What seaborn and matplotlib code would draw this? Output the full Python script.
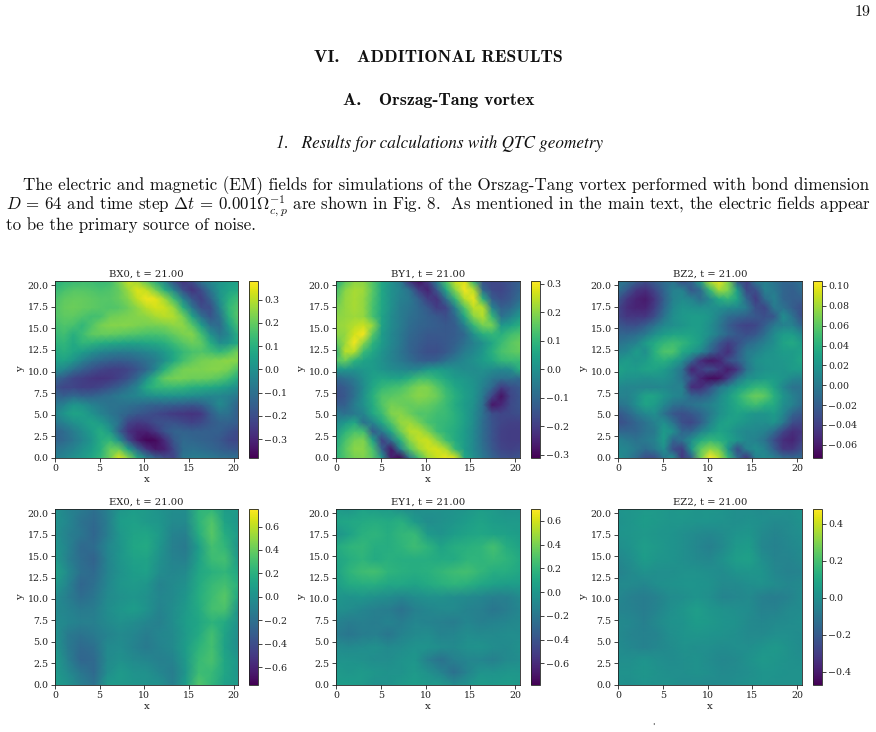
import numpy as np
import matplotlib
matplotlib.use("Agg")
import matplotlib.pyplot as plt
import seaborn as sns

# Field samples on regular grids, listed from the top row (y = 20.5) to the bottom row (y = 0).
# BX0, BY1, EX0, EY1 and EZ2 are in units of 0.01; BZ2 is in units of 0.001.
BX0 = [
    [10, 12, 13, 14, 14, 13, 14, 22, 31, 27, 18, 8, -4, -20, -27, -20, -8, -2, 2, 4, 5],
    [13, 16, 18, 18, 17, 16, 17, 20, 27, 34, 31, 22, 10, -4, -20, -27, -20, -8, 2, 6, 8],
    [16, 19, 20, 20, 19, 18, 18, 20, 24, 31, 36, 35, 27, 14, -4, -18, -24, -14, 0, 10, 14],
    [17, 20, 21, 20, 19, 18, 17, 18, 21, 25, 30, 33, 32, 26, 10, -8, -20, -20, -4, 12, 17],
    [17, 19, 19, 17, 15, 16, 21, 22, 23, 24, 25, 28, 30, 29, 22, 6, -10, -18, -10, 10, 18],
    [15, 17, 16, 12, 17, 22, 24, 24, 24, 23, 22, 22, 23, 25, 25, 18, 4, -10, -12, 4, 15],
    [13, 15, 10, 14, 19, 20, 20, 19, 18, 17, 16, 16, 17, 20, 23, 24, 15, 0, -8, -2, 10],
    [11, 12, 8, 12, 11, 9, 8, 7, 6, 6, 7, 8, 10, 14, 18, 21, 19, 9, -1, 2, 8],
    [8, 10, 7, 4, 0, -3, -5, -6, -6, -5, -3, -1, 3, 8, 13, 16, 17, 15, 12, 16, 22],
    [5, 6, 2, -5, -10, -13, -15, -16, -15, -13, -10, -6, 0, 8, 15, 19, 22, 23, 24, 25, 24],
    [0, -3, -10, -15, -19, -22, -24, -24, -22, -18, -13, -3, 10, 18, 22, 23, 23, 24, 24, 22, 16],
    [-13, -17, -22, -24, -26, -27, -26, -23, -19, -12, 0, 12, 20, 22, 22, 21, 21, 20, 18, 14, 8],
    [-19, -22, -22, -24, -24, -22, -19, -15, -10, -3, 8, 12, 13, 13, 12, 10, 9, 8, 6, 3, -1],
    [-13, -15, -12, -14, -14, -12, -10, -7, -5, -3, -1, 0, 1, 1, 0, -1, -2, -3, -3, -5, -8],
    [-8, -4, 2, 0, -4, -7, -9, -9, -10, -11, -13, -14, -14, -15, -16, -17, -15, -9, -2, -7, -14],
    [-4, 2, 6, 5, 1, -4, -8, -11, -14, -17, -19, -21, -23, -25, -26, -27, -25, -16, -9, -10, -16],
    [-8, -4, 0, 3, 6, 3, -3, -10, -22, -25, -24, -20, -19, -19, -21, -23, -21, -17, -14, -14, -16],
    [-14, -11, -6, -1, 4, 9, 3, -14, -27, -31, -31, -26, -18, -14, -14, -15, -15, -15, -15, -18, -21],
    [-14, -12, -8, -3, 2, 9, 12, 0, -20, -32, -37, -36, -28, -17, -12, -13, -14, -15, -17, -21, -22],
    [-9, -7, -4, 0, 4, 10, 20, 20, 4, -14, -27, -33, -31, -21, -11, -10, -11, -13, -15, -17, -18],
    [-6, -3, 0, 3, 7, 12, 21, 34, 24, 8, -5, -14, -20, -22, -8, -6, -6, -7, -9, -10, -10],
]
BY1 = [
    [6, 15, 20, 20, 14, 6, 0, -6, -22, -28, -20, -4, 14, 26, 28, 8, -16, -18, -17, -15, -12],
    [12, 20, 23, 22, 15, 6, 0, -3, -8, -20, -25, -14, 6, 20, 30, 24, -10, -17, -18, -15, -11],
    [15, 21, 23, 21, 14, 6, 0, -4, -6, -12, -20, -22, -8, 10, 24, 29, 8, -13, -16, -14, -9],
    [18, 21, 23, 21, 13, 6, 0, -5, -7, -10, -14, -20, -18, -4, 14, 25, 24, -3, -12, -10, -4],
    [20, 21, 22, 21, 13, 5, -1, -5, -8, -10, -12, -14, -16, -10, 6, 20, 24, 10, -8, -4, 2],
    [21, 22, 24, 26, 21, 5, -1, -5, -9, -11, -12, -13, -14, -13, -4, 10, 18, 18, 2, 4, 8],
    [20, 21, 27, 30, 15, 3, -2, -6, -10, -12, -14, -14, -14, -13, -10, 0, 8, 10, 8, 12, 14],
    [15, 22, 30, 20, 9, 3, -2, -6, -11, -13, -15, -15, -14, -12, -8, -4, 0, 6, 11, 15, 17],
    [8, 24, 24, 11, 6, 1, -3, -7, -11, -14, -16, -16, -14, -10, -5, -2, 2, 8, 13, 15, 16],
    [14, 17, 9, 5, 3, 0, -3, -6, -9, -12, -13, -12, -8, -5, -2, 0, 3, 6, 10, 11, 11],
    [2, 2, 1, 2, 3, 1, -1, -2, -3, -2, 2, 3, 2, 0, -1, -1, 0, -1, -2, -1, 8],
    [-10, -8, -5, 0, 4, 6, 5, 5, 8, 12, 12, 9, 6, 3, 2, 0, -2, -6, -8, -8, -10],
    [-15, -13, -8, -1, 6, 10, 12, 13, 16, 19, 19, 15, 10, 6, 3, 1, -4, -10, -20, -16, -14],
    [-16, -14, -8, 0, 8, 14, 15, 16, 18, 20, 19, 17, 12, 8, 4, 1, -6, -18, -28, -18, -15],
    [-13, -12, -5, 0, 7, 14, 18, 17, 16, 17, 16, 14, 11, 7, 3, 0, -8, -27, -24, -17, -15],
    [-6, -8, -6, -3, 6, 11, 19, 20, 17, 14, 14, 12, 11, 8, 4, -1, -8, -16, -18, -17, -16],
    [-2, 2, 6, -8, -3, 6, 14, 21, 22, 18, 13, 11, 10, 8, 4, -1, -9, -15, -18, -19, -19],
    [2, 9, 13, 12, -13, -6, 6, 17, 24, 24, 19, 12, 9, 7, 3, -2, -9, -15, -19, -20, -20],
    [6, 13, 18, 19, 5, -19, -8, 8, 20, 25, 26, 20, 12, 7, 3, -2, -9, -15, -19, -20, -20],
    [8, 15, 20, 20, 13, -12, -27, -4, 14, 22, 26, 27, 23, 10, 3, -2, -8, -14, -18, -19, -18],
    [9, 14, 18, 19, 15, 2, -26, -30, -7, 12, 22, 26, 29, 27, 6, 0, -6, -11, -15, -16, -15],
]
BZ2 = [
    [0, -5, -20, -30, -20, -10, -5, -30, -15, 30, 85, 100, 70, -25, -40, 0, 5, -5, -15, -15, -5],
    [-5, -25, -45, -50, -35, -15, 5, 5, -25, -10, 45, 80, 70, 25, -35, -30, 5, 0, -15, -20, -10],
    [-25, -45, -55, -60, -45, -20, 5, 12, 5, -10, 10, 35, 45, 30, -15, -42, -10, 5, -15, -20, -20],
    [-35, -50, -55, -55, -40, -15, 10, 20, 18, 15, 15, 15, 12, 10, 0, -30, -35, 0, -5, -20, -30],
    [-35, -45, -45, -45, -30, -5, 15, 22, 25, 25, 20, 5, -10, -15, -20, -25, -30, -25, 15, -5, -30],
    [-25, -30, -30, -20, -5, 10, 15, 20, 25, 25, 15, 0, -20, -32, -38, -35, -20, 0, 5, 5, -15],
    [-15, -15, -10, 0, 15, 25, 30, 30, 30, 25, 15, 0, -15, -25, -30, -25, -8, 12, 25, 25, 10],
    [-5, 0, 5, 25, 35, 45, 50, 45, 35, 25, 0, -25, -40, -30, -15, -5, 5, 15, 30, 35, 25],
    [5, 10, 25, 15, 40, 55, 55, 35, 25, 10, -15, -35, -50, -25, 0, 5, 15, 20, 25, 25, 28],
    [20, 25, 20, 25, 35, 40, 30, 15, -15, -50, -62, -55, -30, -20, 0, 15, 20, 20, 22, 25, 32],
    [30, 25, 25, 30, 30, 25, 12, -5, -55, -40, -30, -45, -60, -45, -5, 12, 18, 20, 20, 25, 25],
    [22, 18, 18, 15, 18, 18, 10, -5, -30, -55, -68, -65, -40, -5, 15, 20, 25, 25, 20, 10, 5],
    [10, 8, 8, 8, 8, 10, 5, 5, -50, -50, -30, -5, 10, 25, 35, 45, 45, 30, 10, -5, -5],
    [5, 5, 15, 30, 30, 20, 10, 5, -15, -20, -10, 10, 25, 40, 55, 65, 60, 40, 20, 5, -5],
    [-5, 0, 15, 30, 25, 10, -5, -10, -5, 0, 5, 15, 25, 35, 45, 50, 40, 35, 15, 5, -10],
    [-25, -15, 0, 10, 15, -5, -25, -30, -25, -15, 0, 15, 25, 30, 25, 20, 20, 25, 10, -15, -25],
    [-30, -25, -15, -5, 5, 15, -5, -30, -35, -20, 5, 25, 30, 25, 20, 15, 15, 20, 0, -30, -35],
    [-15, -15, -15, -5, 0, 25, 15, -15, -15, 5, 20, 30, 25, 15, 10, 10, 5, -10, -35, -50, -45],
    [5, 0, -5, 0, 5, 25, -15, -5, 15, 35, 45, 40, 30, 20, 10, 5, -5, -30, -50, -55, -40],
    [10, 8, 0, -10, 0, 15, -30, -40, 20, 60, 75, 65, 20, -30, 5, 15, 5, -20, -45, -45, -30],
    [15, 5, -10, -30, -30, 0, 15, -45, -20, 65, 105, 85, 45, -10, -45, 5, 12, 5, -10, -15, -10],
]
EX0 = [
    [0, -8, -14, -20, -10, 4, 8, 6, 2, -2, -2, 22, 24, 8, 6],
    [2, -6, -18, -24, -12, 8, 10, 6, 4, -4, -4, 22, 34, 12, 4],
    [0, -10, -16, -26, -12, 5, 12, 14, 6, -8, -10, 18, 36, 18, 6],
    [4, -8, -24, -22, -6, 3, 14, 16, 4, -10, -14, 8, 30, 24, 2],
    [6, -10, -22, -28, -8, 4, 10, 12, 0, -8, -10, 10, 28, 30, 6],
    [12, -4, -20, -24, -8, 2, 8, 10, -2, -6, -4, 14, 20, 24, 14],
    [6, -8, -26, -20, -6, 4, 6, 4, -8, -4, 0, 16, 26, 30, 20],
    [-2, -12, -22, -16, -4, 0, 4, 0, -6, -4, 4, 18, 28, 36, 14],
    [-4, -8, -14, -12, -2, 4, 8, 2, -8, -2, 6, 16, 30, 32, 2],
    [-2, -6, -10, -10, -4, 0, -2, -6, -10, -2, 8, 14, 22, 16, 0],
    [2, -14, -18, -14, -8, -4, -6, -12, -6, -4, 6, 16, 30, 12, -2],
    [4, -14, -24, -20, -4, -2, -8, -14, -8, -4, 8, 22, 30, 10, -2],
    [8, -10, -26, -24, -4, 0, -4, -6, -10, -8, 6, 26, 32, 14, 4],
    [6, -4, -16, -24, -2, 6, 2, 0, -6, -12, 4, 28, 26, 14, 4],
    [8, 2, -10, -18, 6, 6, 4, 2, 0, -10, 8, 34, 24, 10, 6],
]
EY1 = [
    [2, 0, 6, 4, 2, -4, -6, -4, -4, -2, 0, 4, 2, -2, -2],
    [8, 10, 12, 14, 12, 16, 2, -6, -4, 0, 4, 8, 4, 2, 2],
    [-2, 6, 16, 18, 14, 20, 22, 2, -2, 4, 8, 10, 8, 6, 4],
    [12, 18, 20, 14, 14, 18, 24, 18, 8, 14, 16, 18, 26, 14, 8],
    [8, 14, 18, 12, 16, 14, 14, 14, 12, 12, 18, 18, 22, 18, 12],
    [6, 18, 24, 26, 18, 16, 14, 16, 20, 24, 26, 20, 14, 14, 10],
    [4, 12, 14, 14, 10, 10, 8, 12, 16, 18, 16, 10, 6, 4, 4],
    [0, -2, 0, -4, -6, -10, -6, -4, -4, -6, -8, -10, -14, -14, -8],
    [-4, -6, -10, -14, -16, -22, -14, -10, -8, -8, -12, -14, -20, -16, -10],
    [-12, -16, -14, -16, -12, -16, -10, -12, -14, -16, -10, -14, -12, -10, -8],
    [-16, -20, -16, -14, -20, -12, -8, -6, -12, -10, -6, -8, -8, -6, -6],
    [-6, -8, -6, -4, -8, -6, -2, -2, -6, -8, -4, -2, -6, -8, -4],
    [-2, -2, -4, -6, -6, -2, 0, -14, -22, -14, -10, -10, -14, -8, -6],
    [2, 0, 2, 0, -2, -2, 2, -4, -12, -24, -12, -2, -2, 0, 0],
    [4, 4, 2, -4, -2, 2, 4, 2, 2, -6, -2, 4, 2, 4, 2],
]
EZ2 = [
    [2, 3, 4, 4, 3, 4, 2, 3, 2, 0, 0, -1, 1, 0, 2],
    [1, 3, 5, 4, 3, 3, 2, 2, 1, 0, 1, 0, -2, -1, 1],
    [2, 3, 4, 3, 2, 0, -2, -3, -1, 2, 3, -2, -4, -2, 0],
    [0, 2, 6, 4, 2, 0, -3, -6, -2, 4, 5, -3, -5, -3, -1],
    [-3, 0, 5, 3, 2, 0, -2, -3, 1, 6, 7, 0, -4, -4, -2],
    [-5, -2, 1, 0, 0, 1, 1, 0, -1, 2, 3, 2, -3, -5, -4],
    [-2, -2, -3, 0, 1, 2, 2, 1, -2, -2, 0, 1, -1, -3, -2],
    [-3, -6, -7, -5, -1, 0, 2, 0, -4, -3, -2, -6, -7, -5, -1],
    [-4, -5, -7, -4, 0, 3, 6, 3, 1, 0, -1, -5, -5, -2, -1],
    [-2, -3, -6, -2, 1, 2, 5, 4, 2, 1, -2, -3, -2, -1, 0],
    [-2, -4, -5, -4, 0, 2, 3, 2, 1, 0, -2, -2, 0, 0, -1],
    [-1, -3, -5, -3, -1, 1, 0, 0, -1, 0, 0, 2, 4, 1, -1],
    [0, 0, 2, 0, -1, 0, 1, -1, -3, -2, 1, 4, 3, 1, 0],
    [1, 1, 3, 1, 0, 0, 1, 0, -2, -1, 0, 2, 2, 1, 1],
    [1, 0, 2, 1, 1, -1, -1, -2, -1, 0, 1, 2, 1, 1, 1],
]

PANEL_NAMES = ["BX0", "BY1", "BZ2", "EX0", "EY1", "EZ2"]
PANEL_FIELDS = [BX0, BY1, BZ2, EX0, EY1, EZ2]
PANEL_UNITS = [0.01, 0.01, 0.001, 0.01, 0.01, 0.01]
COLOR_LIMITS = [(-0.38, 0.38), (-0.31, 0.31), (-0.073, 0.105),
                (-0.75, 0.75), (-0.78, 0.70), (-0.47, 0.48)]
COLOR_TICKS = [
    [-0.3, -0.2, -0.1, 0.0, 0.1, 0.2, 0.3],
    [-0.3, -0.2, -0.1, 0.0, 0.1, 0.2, 0.3],
    [-0.06, -0.04, -0.02, 0.0, 0.02, 0.04, 0.06, 0.08, 0.10],
    [-0.6, -0.4, -0.2, 0.0, 0.2, 0.4, 0.6],
    [-0.6, -0.4, -0.2, 0.0, 0.2, 0.4, 0.6],
    [-0.4, -0.2, 0.0, 0.2, 0.4],
]
X_TICKS = [0, 5, 10, 15, 20]
Y_TICKS = [0.0, 2.5, 5.0, 7.5, 10.0, 12.5, 15.0, 17.5, 20.0]
DOMAIN = 20.5
TITLE_TIME = "t = 21.00"

PAGE_NUMBER = "19"
SECTION = "VI.   ADDITIONAL RESULTS"
SUBSECTION = "A.   Orszag-Tang vortex"
SUBSUBSECTION = "1.   Results for calculations with QTC geometry"
BODY_LINES = [
    "The electric and magnetic (EM) fields for simulations of the Orszag-Tang vortex performed with bond dimension",
    r"$D$ = 64 and time step $\Delta t$ = 0.001$\Omega_{c,p}^{-1}$ are shown in Fig. 8.  As mentioned in the main text, the electric fields appear",
    "to be the primary source of noise.",
]

W, H = 876, 732
sns.set_theme(style="white")
plt.rcParams["font.family"] = ["DejaVu Serif"]
plt.rcParams["mathtext.fontset"] = "cm"

fig = plt.figure(figsize=(W / 100, H / 100), dpi=100)


def px_axes(left, top, right, bottom):
    """Create axes from pixel edges measured from the top-left corner."""
    return fig.add_axes([left / W, 1 - bottom / H, (right - left) / W, (bottom - top) / H])


COLUMNS = [(55, 238, 249, 258), (336, 519.7, 531, 540), (618, 801.7, 813, 822)]
ROWS = [(281, 457.7), (509, 684.7)]
INK = "#222222"
TICK_SIZE = 6.8

for k, (name, field, unit, limits, cticks) in enumerate(
        zip(PANEL_NAMES, PANEL_FIELDS, PANEL_UNITS, COLOR_LIMITS, COLOR_TICKS)):
    left, right, c_left, c_right = COLUMNS[k % 3]
    top, bottom = ROWS[k // 3]
    ax = px_axes(left, top, right, bottom)
    cax = px_axes(c_left, top, c_right, bottom)
    values = np.array(field, dtype=float)[::-1] * unit
    nodes = values.shape[0] - 1
    sns.heatmap(values, ax=ax, cbar_ax=cax, cmap="viridis", vmin=limits[0], vmax=limits[1],
                shading="gouraud", xticklabels=False, yticklabels=False, square=False)

    # The mesh is indexed by sample number, so ticks are placed in those units.
    ax.set_xlim(0, nodes)
    ax.set_ylim(0, nodes)
    ax.set_xticks([v * nodes / DOMAIN for v in X_TICKS], [str(v) for v in X_TICKS])
    ax.set_yticks([v * nodes / DOMAIN for v in Y_TICKS], [f"{v:.1f}" for v in Y_TICKS], rotation=0)
    ax.tick_params(bottom=True, left=True, length=2.6, width=0.6, pad=2,
                   labelsize=TICK_SIZE, colors=INK)
    ax.set_xlabel("x", fontsize=TICK_SIZE + 0.6, labelpad=1.5, color=INK)
    ax.set_ylabel("y", fontsize=TICK_SIZE + 0.6, labelpad=1.5, color=INK)
    ax.set_title(f"{name}, {TITLE_TIME}", fontsize=7.2, pad=3, color=INK)
    for spine in ax.spines.values():
        spine.set_visible(True)
        spine.set_linewidth(0.6)
        spine.set_color(INK)

    cbar = ax.collections[0].colorbar
    cbar.set_ticks(cticks)
    if name == "BZ2":
        cbar.set_ticklabels([f"{v:.2f}".replace("-", "\u2212") for v in cticks])
    cbar.ax.tick_params(right=True, length=2.6, width=0.6, pad=2, labelsize=TICK_SIZE, colors=INK)
    cbar.outline.set_visible(True)
    cbar.outline.set_linewidth(0.6)
    cbar.outline.set_edgecolor(INK)


def page_text(x, y, text, **kw):
    fig.text(x / W, 1 - y / H, text, va="center", color="#111111", **kw)


page_text(870, 12, PAGE_NUMBER, ha="right", family="cmr10", size=11.5)
page_text(438.5, 57, SECTION, ha="center", family="cmb10", size=12.8)
page_text(438.5, 100, SUBSECTION, ha="center", family="cmb10", size=12.8)
page_text(439, 143.5, SUBSUBSECTION, ha="center", family="STIXGeneral", style="italic", size=12.3)
page_text(23, 186, BODY_LINES[0], ha="left", family="cmr10", size=12.25)
page_text(6, 206, BODY_LINES[1], ha="left", family="cmr10", size=12.17)
page_text(6, 225.5, BODY_LINES[2], ha="left", family="cmr10", size=12.2)
page_text(653, 726, "'", ha="center", family="DejaVu Serif", size=6)

fig.savefig("out.png", dpi=100, facecolor="white")
